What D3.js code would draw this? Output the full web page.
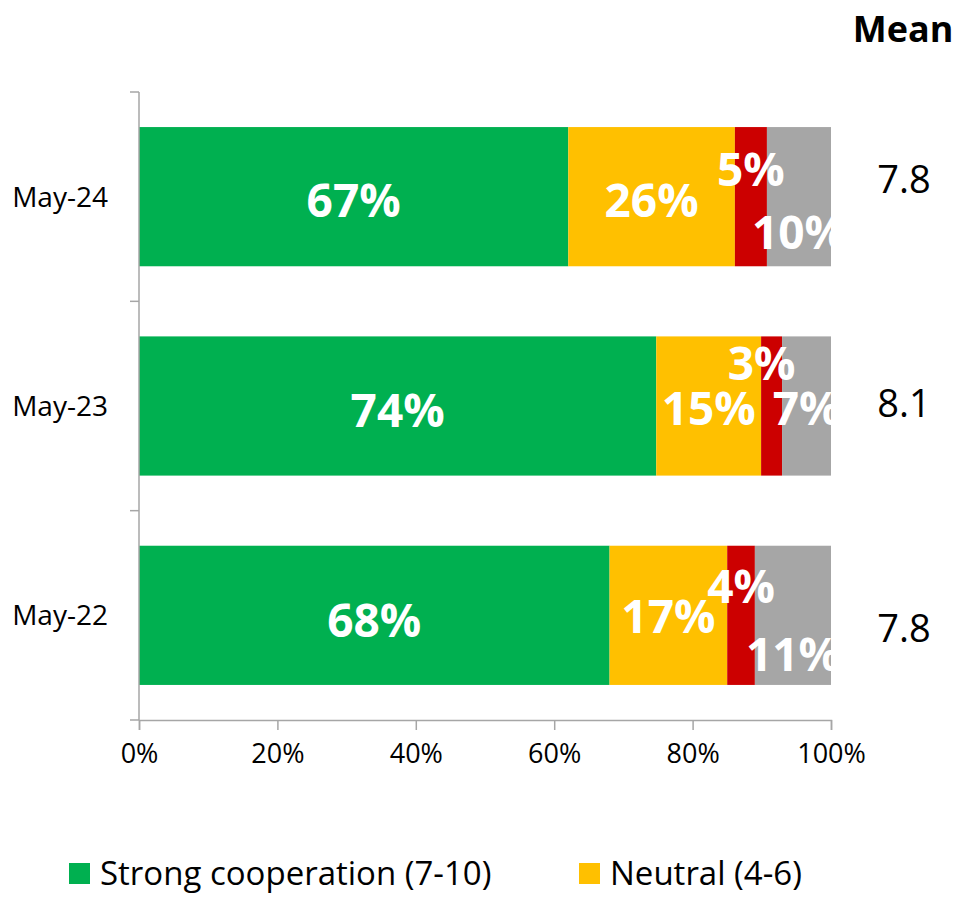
<!DOCTYPE html>
<html>
<head>
<meta charset="utf-8">
<script src="https://cdn.jsdelivr.net/npm/d3@7"></script>
<style>
  body { margin: 0; background: #fff; }
  text { font-family: "Open Sans", sans-serif; }
</style>
</head>
<body>
<svg class="chart"></svg>
<script>
const width = 960;
const height = 900;

// data
const periods = ["May-24", "May-23", "May-22"];
const seriesKeys = ["strong", "neutral", "weak", "dontKnow"];
const legendLabels = ["Strong cooperation (7-10)", "Neutral (4-6)"];
const strong = [67, 74, 68];
const neutral = [26, 15, 17];
const weak = [5, 3, 4];
const dontKnow = [10, 7, 11];
const means = ["7.8", "8.1", "7.8"];
const xTicks = [0, 0.2, 0.4, 0.6, 0.8, 1];

const colors = {
  strong: "#00b050",
  neutral: "#ffc000",
  weak: "#cc0000",
  dontKnow: "#a6a6a6"
};

// hand-placed label nudges (dx, dy) per period / series, like the original slide
const nudge = {
  "May-24": { strong: [0, 4], neutral: [0, 4], weak: [0, -27], dontKnow: [0, 36] },
  "May-23": { strong: [0, 4], neutral: [0, 2], weak: [-10, -43], dontKnow: [0, 2] },
  "May-22": { strong: [0, 5], neutral: [0, 1], weak: [0, -29], dontKnow: [0, 39] }
};
const meanDy = [-17, -3, 13];

const margin = { left: 139, right: 831, top: 92, bottom: 720 };

const rows = periods.map((p, i) => ({
  period: p,
  strong: strong[i],
  neutral: neutral[i],
  weak: weak[i],
  dontKnow: dontKnow[i],
  mean: means[i]
}));

const stacked = d3.stack()
  .keys(seriesKeys)
  .offset(d3.stackOffsetExpand)(rows);

const x = d3.scaleLinear().domain([0, 1]).range([margin.left, margin.right]);
const y = d3.scaleBand().domain(periods)
  .range([margin.top, margin.bottom])
  .paddingInner(0.335).paddingOuter(0.1675);

const svg = d3.select(".chart").attr("width", width).attr("height", height);

svg.append("defs").append("clipPath").attr("id", "plotclip")
  .append("rect")
  .attr("x", margin.left).attr("y", 0)
  .attr("width", margin.right - margin.left).attr("height", height);

// bars
const layers = svg.append("g").selectAll("g")
  .data(stacked)
  .enter().append("g")
  .attr("fill", d => colors[d.key]);

layers.selectAll("rect")
  .data(d => d)
  .enter().append("rect")
  .attr("x", d => x(d[0]))
  .attr("y", d => y(d.data.period))
  .attr("width", d => x(d[1]) - x(d[0]))
  .attr("height", y.bandwidth());

// axes
const axisColor = "#a6a6a6";
const yAxis = svg.append("g")
  .attr("transform", `translate(${margin.left},0)`);
yAxis.append("line")
  .attr("y1", margin.top).attr("y2", margin.bottom)
  .attr("stroke", axisColor).attr("stroke-width", 1.5);
const step = y.step();
yAxis.selectAll(".tk")
  .data(d3.range(periods.length + 1))
  .enter().append("line")
  .attr("x1", -9).attr("x2", 0)
  .attr("y1", i => margin.top + i * step)
  .attr("y2", i => margin.top + i * step)
  .attr("stroke", axisColor).attr("stroke-width", 1.5);

const xAxis = d3.axisBottom(x)
  .tickValues(xTicks)
  .tickFormat(d3.format(".0%"))
  .tickSize(10)
  .tickPadding(14);
const gx = svg.append("g")
  .attr("transform", `translate(0,${margin.bottom})`)
  .call(xAxis);
gx.select(".domain").attr("stroke", axisColor).attr("stroke-width", 1.5);
gx.selectAll(".tick line").attr("stroke", axisColor).attr("stroke-width", 1.5);
gx.selectAll(".tick text")
  .attr("fill", "#000")
  .style("font-family", "'Open Sans', sans-serif")
  .style("font-size", "27px");

// category labels
svg.append("g").selectAll("text")
  .data(periods)
  .enter().append("text")
  .attr("x", 108)
  .attr("y", d => y(d) + y.bandwidth() / 2)
  .attr("dy", "0.36em")
  .attr("text-anchor", "end")
  .style("font-size", "28px")
  .text(d => d);

// value labels (clipped at the plot edge)
const labels = svg.append("g").attr("clip-path", "url(#plotclip)");
stacked.forEach(layer => {
  labels.selectAll(".lbl-" + layer.key)
    .data(layer)
    .enter().append("text")
    .attr("class", "lbl-" + layer.key)
    .attr("x", d => (x(d[0]) + x(d[1])) / 2 + nudge[d.data.period][layer.key][0])
    .attr("y", d => y(d.data.period) + y.bandwidth() / 2 + nudge[d.data.period][layer.key][1])
    .attr("dy", "0.36em")
    .attr("text-anchor", "middle")
    .attr("fill", "#fff")
    .style("font-size", "46px")
    .style("font-weight", "bold")
    .text(d => d.data[layer.key] + "%");
});

// mean column
svg.append("text")
  .attr("x", 903).attr("y", 42)
  .attr("text-anchor", "middle")
  .style("font-size", "36px")
  .style("font-weight", "bold")
  .text("Mean");

svg.append("g").selectAll("text")
  .data(rows)
  .enter().append("text")
  .attr("x", 904)
  .attr("y", (d, i) => y(d.period) + y.bandwidth() / 2 + meanDy[i])
  .attr("dy", "0.36em")
  .attr("text-anchor", "middle")
  .style("font-size", "38px")
  .text(d => d.mean);

// legend (only the first row is visible in the frame)
const legendX = [69, 579];
const legend = svg.append("g").selectAll("g")
  .data(legendLabels)
  .enter().append("g")
  .attr("transform", (d, i) => `translate(${legendX[i]},863)`);
legend.append("rect")
  .attr("width", 21).attr("height", 21)
  .attr("fill", (d, i) => colors[seriesKeys[i]]);
legend.append("text")
  .attr("x", 31).attr("y", 10.5)
  .attr("dy", "0.36em")
  .style("font-size", "33px")
  .text(d => d);
</script>
</body>
</html>
